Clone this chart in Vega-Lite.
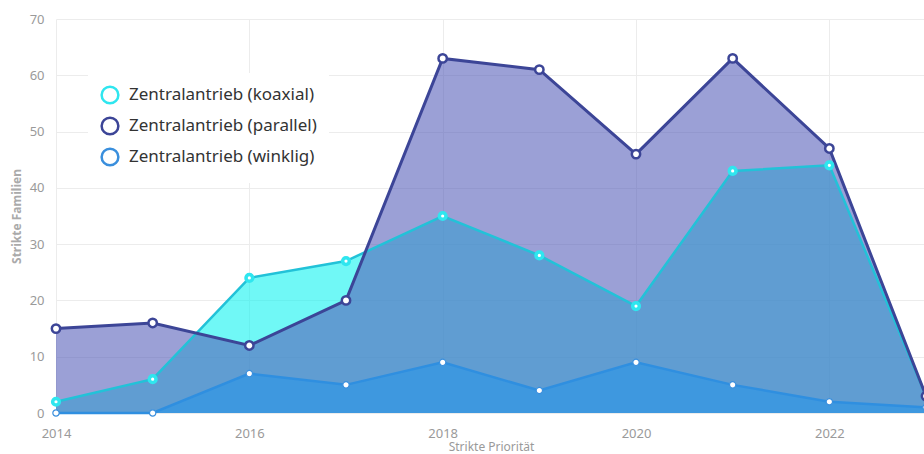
{
  "$schema": "https://vega.github.io/schema/vega-lite/v6.json",
  "autosize": "none",
  "padding": {"left": 56, "top": 19, "right": 0, "bottom": 41},
  "width": 870,
  "height": 394,
  "background": "white",
  "config": {
    "view": {"stroke": null},
    "font": "Noto Sans",
    "axis": {"labelFont": "Noto Sans", "titleFont": "Noto Sans"},
    "legend": {"labelFont": "Noto Sans"}
  },
  "data": {
    "values": [
      {"year": 2014, "series": "Zentralantrieb (koaxial)", "value": 2},
      {"year": 2015, "series": "Zentralantrieb (koaxial)", "value": 6},
      {"year": 2016, "series": "Zentralantrieb (koaxial)", "value": 24},
      {"year": 2017, "series": "Zentralantrieb (koaxial)", "value": 27},
      {"year": 2018, "series": "Zentralantrieb (koaxial)", "value": 35},
      {"year": 2019, "series": "Zentralantrieb (koaxial)", "value": 28},
      {"year": 2020, "series": "Zentralantrieb (koaxial)", "value": 19},
      {"year": 2021, "series": "Zentralantrieb (koaxial)", "value": 43},
      {"year": 2022, "series": "Zentralantrieb (koaxial)", "value": 44},
      {"year": 2023, "series": "Zentralantrieb (koaxial)", "value": 3},
      {"year": 2014, "series": "Zentralantrieb (parallel)", "value": 15},
      {"year": 2015, "series": "Zentralantrieb (parallel)", "value": 16},
      {"year": 2016, "series": "Zentralantrieb (parallel)", "value": 12},
      {"year": 2017, "series": "Zentralantrieb (parallel)", "value": 20},
      {"year": 2018, "series": "Zentralantrieb (parallel)", "value": 63},
      {"year": 2019, "series": "Zentralantrieb (parallel)", "value": 61},
      {"year": 2020, "series": "Zentralantrieb (parallel)", "value": 46},
      {"year": 2021, "series": "Zentralantrieb (parallel)", "value": 63},
      {"year": 2022, "series": "Zentralantrieb (parallel)", "value": 47},
      {"year": 2023, "series": "Zentralantrieb (parallel)", "value": 3},
      {"year": 2014, "series": "Zentralantrieb (winklig)", "value": 0},
      {"year": 2015, "series": "Zentralantrieb (winklig)", "value": 0},
      {"year": 2016, "series": "Zentralantrieb (winklig)", "value": 7},
      {"year": 2017, "series": "Zentralantrieb (winklig)", "value": 5},
      {"year": 2018, "series": "Zentralantrieb (winklig)", "value": 9},
      {"year": 2019, "series": "Zentralantrieb (winklig)", "value": 4},
      {"year": 2020, "series": "Zentralantrieb (winklig)", "value": 9},
      {"year": 2021, "series": "Zentralantrieb (winklig)", "value": 5},
      {"year": 2022, "series": "Zentralantrieb (winklig)", "value": 2},
      {"year": 2023, "series": "Zentralantrieb (winklig)", "value": 1}
    ]
  },
  "encoding": {
    "x": {
      "field": "year", "type": "quantitative",
      "scale": {"domain": [2014, 2023], "nice": false, "zero": false},
      "axis": {
        "values": [2014, 2016, 2018, 2020, 2022], "format": "d",
        "domain": false, "ticks": false, "grid": true, "gridColor": "#ececec",
        "labelFlush": false,
        "labelColor": "#9a9a9a", "labelFontSize": 13, "labelPadding": 14,
        "title": "Strikte Priorität", "titleColor": "#9a9a9a", "titleFontSize": 12,
        "titleFontWeight": "normal", "titlePadding": 1
      }
    },
    "y": {
      "field": "value", "type": "quantitative",
      "scale": {"domain": [0, 70], "nice": false},
      "axis": {
        "values": [0, 10, 20, 30, 40, 50, 60, 70],
        "domain": false, "ticks": false, "grid": true, "gridColor": "#ececec",
        "labelColor": "#9a9a9a", "labelFontSize": 13, "labelPadding": 12,
        "title": "Strikte Familien", "titleColor": "#aaaaaa", "titleFontSize": 12,
        "titleFontWeight": "bold", "titlePadding": 6
      }
    }
  },
  "layer": [
    {
      "transform": [{"filter": "datum.series === 'Zentralantrieb (koaxial)'"}],
      "mark": {"type": "area", "color": "#11f3f0", "fillOpacity": 0.6}
    },
    {
      "transform": [{"filter": "datum.series === 'Zentralantrieb (parallel)'"}],
      "mark": {"type": "area", "color": "#555db9", "fillOpacity": 0.59}
    },
    {
      "transform": [{"filter": "datum.series === 'Zentralantrieb (winklig)'"}],
      "mark": {"type": "area", "color": "#3898e2", "fillOpacity": 0.85}
    },
    {
      "transform": [{"filter": "datum.series === 'Zentralantrieb (koaxial)'"}],
      "mark": {"type": "line", "color": "#22c2d8", "strokeWidth": 2.5}
    },
    {
      "transform": [{"filter": "datum.series === 'Zentralantrieb (parallel)'"}],
      "mark": {"type": "line", "color": "#3c4597", "strokeWidth": 3}
    },
    {
      "transform": [{"filter": "datum.series === 'Zentralantrieb (winklig)'"}],
      "mark": {"type": "line", "color": "#2f8fe0", "strokeWidth": 2.5}
    },
    {
      "transform": [{"filter": "datum.series === 'Zentralantrieb (koaxial)'"}],
      "mark": {"type": "point", "shape": "circle", "filled": false, "fill": "white", "fillOpacity": 1, "strokeWidth": 3.5, "size": 45, "opacity": 1},
      "encoding": {
        "stroke": {"field": "series", "type": "nominal",
          "scale": {"domain": ["Zentralantrieb (koaxial)", "Zentralantrieb (parallel)", "Zentralantrieb (winklig)"], "range": ["#2fe6ef", "#3c4597", "#3a8fdd"]},
          "legend": {
            "title": null, "orient": "none", "legendX": 32, "legendY": 54,
            "fillColor": "white", "padding": 12,
            "symbolType": "circle", "symbolSize": 280, "symbolStrokeWidth": 2.5,
            "symbolFillColor": "white", "symbolOpacity": 1,
            "labelFontSize": 17, "labelLimit": 0, "labelColor": "#333333", "labelOffset": 9, "rowPadding": 3
          }
        }
      }
    },
    {
      "transform": [{"filter": "datum.series === 'Zentralantrieb (parallel)'"}],
      "mark": {"type": "point", "shape": "circle", "filled": false, "fill": "white", "fillOpacity": 1, "strokeWidth": 2.5, "size": 70, "opacity": 1},
      "encoding": {"stroke": {"field": "series", "type": "nominal"}}
    },
    {
      "transform": [{"filter": "datum.series === 'Zentralantrieb (winklig)'"}],
      "mark": {"type": "point", "shape": "circle", "filled": false, "fill": "white", "fillOpacity": 1, "strokeWidth": 1.2, "size": 40, "opacity": 1},
      "encoding": {"stroke": {"field": "series", "type": "nominal"}}
    }
  ]
}
